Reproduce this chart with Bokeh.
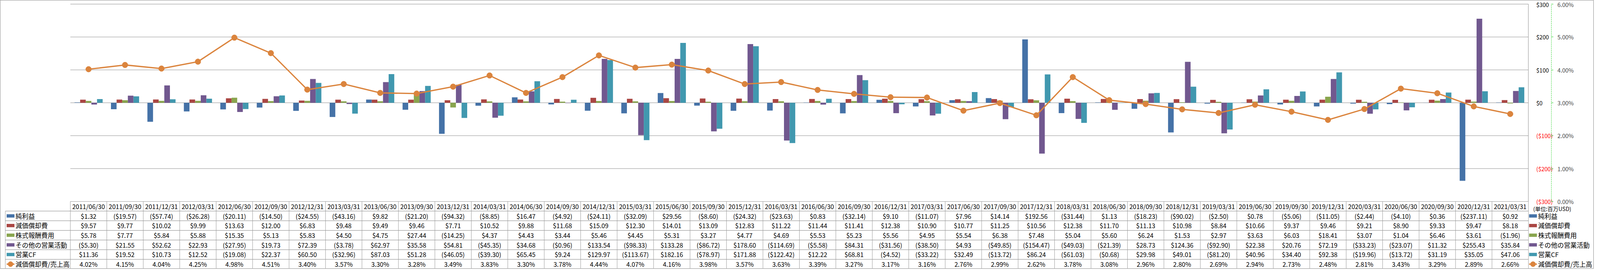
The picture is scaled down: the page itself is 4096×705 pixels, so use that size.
from bokeh.plotting import figure
from bokeh.models import Range1d, LinearAxis, FixedTicker, NumeralTickFormatter, ColumnDataSource
from bokeh.core.properties import value
from bokeh.transform import dodge
from bokeh.embed import file_html
from bokeh.resources import INLINE

# ---------------- data ----------------
dates = ["2011/06/30", "2011/09/30", "2011/12/31", "2012/03/31", "2012/06/30", "2012/09/30",
         "2012/12/31", "2013/03/31", "2013/06/30", "2013/09/30", "2013/12/31", "2014/03/31",
         "2014/06/30", "2014/09/30", "2014/12/31", "2015/03/31", "2015/06/30", "2015/09/30",
         "2015/12/31", "2016/03/31", "2016/06/30", "2016/09/30", "2016/12/31", "2017/03/31",
         "2017/06/30", "2017/09/30", "2017/12/31", "2018/03/31", "2018/06/30", "2018/09/30",
         "2018/12/31", "2019/03/31", "2019/06/30", "2019/09/30", "2019/12/31", "2020/03/31",
         "2020/06/30", "2020/09/30", "2020/12/31", "2021/03/31"]
net_income = [1.32, -19.57, -57.74, -26.28, -20.11, -14.50, -24.55, -43.16, 9.82, -21.20,
              -94.32, -8.85, 16.47, -4.92, -24.11, -32.09, 29.56, -8.60, -24.32, -23.63,
              0.83, -32.14, 9.10, -11.07, 7.96, 14.14, 192.56, -31.44, 1.13, -18.23,
              -90.02, -2.50, 0.78, -5.06, -11.05, -2.44, -4.10, 0.36, -237.11, 0.92]
depreciation = [9.57, 9.77, 10.02, 9.99, 13.63, 12.00, 6.83, 9.48, 9.49, 9.46,
                7.71, 10.52, 9.88, 11.68, 15.09, 12.30, 14.01, 13.09, 12.83, 11.22,
                11.44, 11.41, 12.38, 10.90, 10.77, 11.25, 10.56, 12.38, 11.70, 11.13,
                10.98, 8.84, 10.66, 9.37, 9.46, 9.21, 8.90, 9.33, 9.47, 8.18]
stock_comp = [5.78, 7.77, 5.84, 5.88, 15.35, 5.13, 5.83, 4.50, 4.75, 27.44,
              -14.25, 4.37, 4.43, 3.44, 5.46, 4.45, 5.31, 3.27, 4.77, 4.69,
              5.53, 5.23, 5.56, 4.95, 5.54, 6.38, 7.48, 5.04, 5.60, 6.24,
              1.53, 2.97, 3.63, 6.03, 18.41, 3.07, 1.04, 6.46, 3.61, -1.96]
other_ops = [-5.30, 21.55, 52.62, 22.93, -27.95, 19.73, 72.39, -3.78, 62.97, 35.58,
             54.81, -45.35, 34.68, -0.96, 133.54, -98.33, 133.28, -86.72, 178.60, -114.69,
             -5.58, 84.31, -31.56, -38.50, 4.93, -49.85, -154.47, -49.03, -21.39, 28.73,
             124.36, -92.90, 22.38, 20.76, 72.19, -33.23, -23.07, 11.32, 255.43, 35.84]
op_cf = [11.36, 19.52, 10.73, 12.52, -19.08, 22.37, 60.50, -32.96, 87.03, 51.28,
         -46.05, -39.30, 65.45, 9.24, 129.97, -113.67, 182.16, -78.97, 171.88, -122.42,
         12.22, 68.81, -4.52, -33.22, 32.49, -13.72, 86.24, -61.03, -0.68, 29.98,
         49.01, -81.20, 40.96, 34.40, 92.38, -19.96, -13.72, 31.19, 35.05, 47.06]
dep_ratio_pct = [4.02, 4.15, 4.04, 4.25, 4.98, 4.51, 3.40, 3.57, 3.30, 3.28,
                 3.49, 3.83, 3.30, 3.78, 4.44, 4.07, 4.16, 3.98, 3.57, 3.63,
                 3.39, 3.27, 3.17, 3.16, 2.76, 2.99, 2.62, 3.78, 3.08, 2.96,
                 2.80, 2.69, 2.94, 2.73, 2.48, 2.81, 3.43, 3.29, 2.89, 2.66]

series_names = ["純利益", "減価償却費", "株式報酬費用", "その他の営業活動", "営業CF", "減価償却費/売上高"]
usd_ticks = [-300, -200, -100, 0, 100, 200, 300]
pct_ticks = [0.0, 0.01, 0.02, 0.03, 0.04, 0.05, 0.06]
unit_label = "(単位:百万USD)"

# ---------------- styles / layout ----------------
bar_colors = ["#4572A7", "#AA4643", "#89A54E", "#71588F", "#4198AF"]
line_color = "#DB843D"
FONT_NAME = "Noto Sans CJK JP"
FONT = value(FONT_NAME)
W, H = 4080, 689
PLOT_L, PLOT_R = 179.6, 3912.3
PLOT_T, PLOT_B = 10.0, 516.0
N = len(dates)
COLW = (PLOT_R - PLOT_L) / N
XS = -0.5 - PLOT_L / COLW
XE = N - 0.5 + (W - PLOT_R) / COLW


def xu(px):
    return XS + px / COLW


k_usd = (PLOT_B - PLOT_T) / (usd_ticks[-1] - usd_ticks[0])
y_start = usd_ticks[0] - (H - PLOT_B) / k_usd
y_end = usd_ticks[-1] + PLOT_T / k_usd
k_pct = (PLOT_B - PLOT_T) / (pct_ticks[-1] - pct_ticks[0])
p_start = pct_ticks[0] - (H - PLOT_B) / k_pct
p_end = pct_ticks[-1] + PLOT_T / k_pct
NROWS = 7
ROW_H = (H - PLOT_B) / NROWS

p = figure(width=W, height=H, x_range=Range1d(XS, XE), y_range=Range1d(y_start, y_end),
           output_backend="svg", toolbar_location=None, min_border=0,
           x_axis_type=None, y_axis_type=None)
p.outline_line_color = "#8c8c8c"
p.background_fill_color = "white"
p.extra_y_ranges = {"pct": Range1d(p_start, p_end),
                    "tbl": Range1d(NROWS, -PLOT_B / ROW_H)}

# gridlines
p.segment(x0=-0.5, x1=N - 0.5, y0=usd_ticks, y1=usd_ticks, line_color="#8c8c8c", line_width=1)

# bars
idx = list(range(N))
src = ColumnDataSource(dict(x=idx, ni=net_income, dep=depreciation, sc=stock_comp,
                            oth=other_ops, cf=op_cf, ratio=[r / 100 for r in dep_ratio_pct]))
bw = 22 / 142.4
for j, key in enumerate(["ni", "dep", "sc", "oth", "cf"]):
    p.vbar(x=dodge("x", (j - 2) * bw, range=p.x_range), top=key, bottom=0, width=bw,
           source=src, fill_color=bar_colors[j], line_color=None)

# ratio line
p.line("x", "ratio", source=src, y_range_name="pct", line_color=line_color, line_width=3.3)
p.scatter("x", "ratio", source=src, y_range_name="pct", size=14.5,
          fill_color=line_color, line_color=line_color)

# axes
ax_pos = LinearAxis(fixed_location=N - 0.5, bounds=(usd_ticks[0], usd_ticks[-1]),
                    ticker=FixedTicker(ticks=[t for t in usd_ticks if t >= 0]),
                    major_label_overrides={t: f"${t}" for t in usd_ticks if t >= 0})
ax_neg = LinearAxis(fixed_location=N - 0.5, bounds=(usd_ticks[0], -100),
                    ticker=FixedTicker(ticks=[t for t in usd_ticks if t < 0]),
                    major_label_overrides={t: f"(${-t})" for t in usd_ticks if t < 0})
for ax, col in ((ax_pos, "black"), (ax_neg, "#FF0000")):
    ax.axis_line_color = "#8c8c8c" if ax is ax_pos else None
    ax.major_tick_line_color = None
    ax.minor_tick_line_color = None
    ax.major_label_standoff = 14
    ax.major_label_text_font = FONT_NAME
    ax.major_label_text_font_size = "14.5px"
    ax.major_label_text_color = col
    p.add_layout(ax, "right")

ax_pct = LinearAxis(y_range_name="pct", fixed_location=xu(3970.6),
                    bounds=(pct_ticks[0], pct_ticks[-1]),
                    ticker=FixedTicker(ticks=pct_ticks),
                    formatter=NumeralTickFormatter(format="0.00%"))
ax_pct.axis_line_color = "#22cc22"
ax_pct.axis_line_dash = "3 2"
ax_pct.major_tick_line_color = "#22cc22"
ax_pct.major_tick_out = 5
ax_pct.major_tick_in = 0
ax_pct.minor_tick_line_color = None
ax_pct.major_label_standoff = 11
ax_pct.major_label_text_font = FONT_NAME
ax_pct.major_label_text_font_size = "14.5px"
p.add_layout(ax_pct, "right")

# ---------------- table ----------------
TC = "#9a9a9a"
left_edge = xu(13.1)
hx0 = [-0.5] + [left_edge] * NROWS
hy = list(range(NROWS + 1))
p.segment(x0=hx0, x1=[N - 0.5] * len(hy), y0=hy, y1=hy, y_range_name="tbl",
          line_color=TC, line_width=1.2)
vx = [i - 0.5 for i in range(N + 1)] + [left_edge]
p.segment(x0=vx, x1=vx, y0=[0] * (N + 1) + [1], y1=[NROWS] * (N + 2), y_range_name="tbl",
          line_color=TC, line_width=1)


def fmt_usd(v):
    return f"${v:,.2f}" if v >= 0 else f"(${-v:,.2f})"


CELL_FS = "16px"
p.text(x=idx, y=[0.5] * N, text=dates, y_range_name="tbl", text_font=FONT,
       text_font_size=CELL_FS, text_align="center", text_baseline="middle", text_color="black")
rows = [net_income, depreciation, stock_comp, other_ops, op_cf]
for r, vals in enumerate(rows):
    p.text(x=idx, y=[r + 1.5] * N, text=[fmt_usd(v) for v in vals], y_range_name="tbl",
           text_font=FONT, text_font_size=CELL_FS, text_align="center",
           text_baseline="middle", text_color="black")
p.text(x=idx, y=[6.5] * N, text=[f"{v:.2f}%" for v in dep_ratio_pct], y_range_name="tbl",
       text_font=FONT, text_font_size=CELL_FS, text_align="center",
       text_baseline="middle", text_color="black")

# legend keys (left column of table and right side)
for key_px, text_px in ((26.5, 39.3), (3924.0, 3937.0)):
    ys = [r + 1.5 for r in range(5)]
    p.rect(x=[xu(key_px)] * 5, y=ys, width=20, height=8.5, width_units="screen",
           height_units="screen", fill_color=bar_colors, line_color=None, y_range_name="tbl")
    p.segment(x0=xu(key_px - 10), x1=xu(key_px + 10), y0=6.5, y1=6.5, y_range_name="tbl",
              line_color=line_color, line_width=3.3)
    p.scatter(x=[xu(key_px)], y=[6.5], size=13, fill_color=line_color, line_color=line_color,
              y_range_name="tbl")
    p.text(x=[xu(text_px)] * 6, y=[r + 1.5 for r in range(6)], text=series_names,
           y_range_name="tbl", text_font=FONT, text_font_size="16.5px", text_align="left",
           text_baseline="middle", text_color="black")

p.text(x=[xu(3924.5)], y=[0.73], text=[unit_label], y_range_name="tbl", text_font=FONT,
       text_font_size="14px", text_align="left", text_baseline="middle", text_color="black")

open("out.html", "w").write(file_html(p, INLINE))
